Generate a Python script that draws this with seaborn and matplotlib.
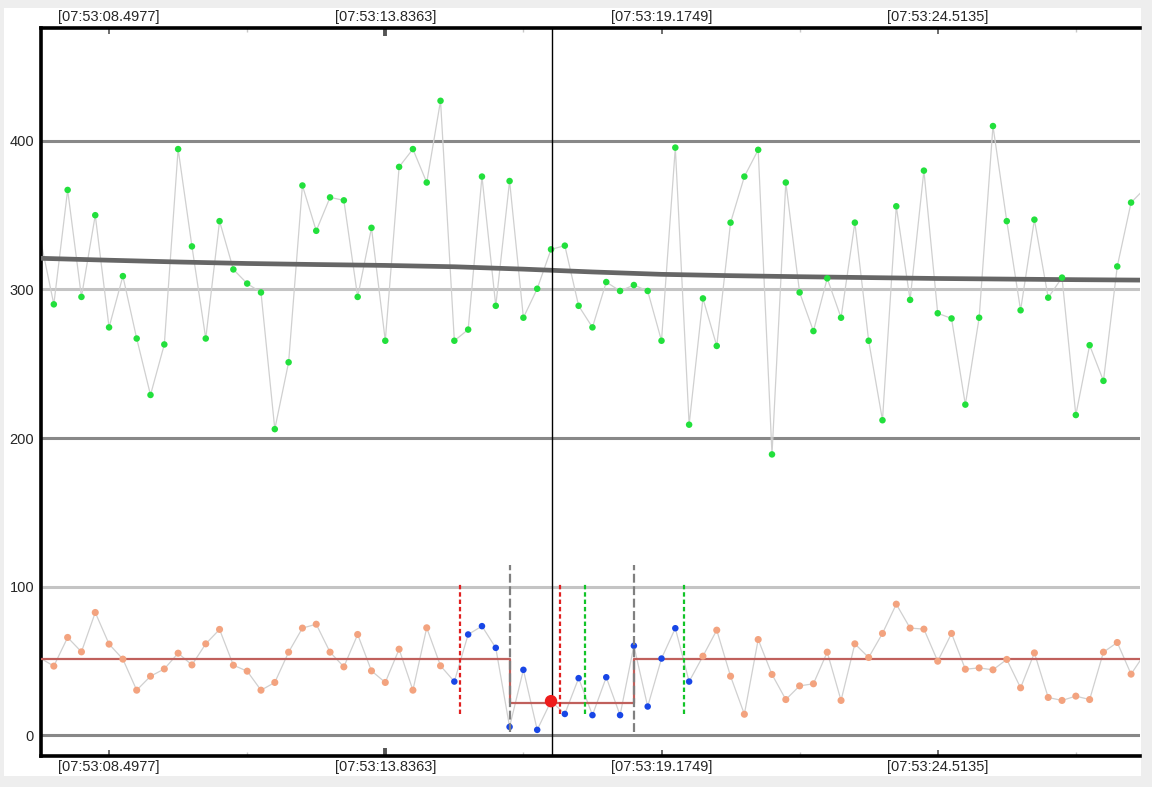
import numpy as np
import pandas as pd
import matplotlib
matplotlib.use("Agg")
import matplotlib.pyplot as plt
from matplotlib.patches import Rectangle
import seaborn as sns

# sampling: seconds past 07:53, one sample every period
period = 0.26693
first_time = 7.16305

upper_values = [335, 290, 367, 295, 350, 274.5, 309, 267, 229, 263,
                394.5, 329, 267, 346, 313.5, 304, 298, 206, 251, 370,
                339.5, 362, 360, 295, 341.5, 265.5, 382.5, 394.5, 372, 427,
                265.5, 273, 376, 289, 373, 281, 300.5, 327, 329.5, 289,
                274.5, 305, 299, 303, 299, 265.5, 395.5, 209, 294, 262,
                345, 376, 394, 189, 372, 298, 272, 307.5, 281, 345,
                265.5, 212, 356, 293, 380, 284, 280.5, 222.5, 281, 410,
                346, 286, 347, 294.5, 308, 215.5, 262.5, 238.5, 315.5, 358.5,
                368]

lower_values = [52, 46.5, 65.8, 56.1, 82.6, 61.3, 51.2, 30.3, 39.7, 44.6,
                55.2, 47.3, 61.5, 71.2, 47.1, 43.1, 30.3, 35.5, 55.9, 72.1,
                74.7, 55.9, 46, 67.8, 43.3, 35.5, 57.9, 30.3, 72.3, 46.7,
                36.1, 67.8, 73.4, 58.8, 5.6, 44, 3.6, 22.9, 14.3, 38.4,
                13.5, 39, 13.5, 60.2, 19.3, 51.6, 72, 36.1, 53.2, 70.7,
                39.7, 14.1, 64.4, 40.9, 24, 33.2, 34.6, 55.9, 23.4, 61.5,
                52.3, 68.5, 88.2, 72.1, 71.4, 49.8, 68.5, 44.4, 45.3, 44,
                51, 31.9, 55.4, 25.4, 23.4, 26.3, 24, 55.9, 62.4, 41.1,
                55]

trend_index = [0, 5, 10, 15, 20, 25, 30, 35, 40, 45, 50, 55, 60, 65, 70, 75, 80]
trend_values = [321, 319.7, 318.5, 317.5, 316.8, 316.2, 315.3, 313.7, 311.8,
                310.2, 309.3, 308.6, 308, 307.4, 307, 306.6, 306.3]

window_first, window_last = 30, 47      # samples drawn blue
selected_sample = 37                    # big red dot
level_high, level_low = 51.4, 21.5
step_first, step_last = 34, 43          # low level between these samples

tick_times = [8.4977, 13.8363, 19.1749, 24.5135]
red_marks = [15.286, 17.205]
green_marks = [17.691, 19.610]
gray_marks = [16.247, 18.649]
cursor_time = 17.050

n = len(upper_values)
times = first_time + period * np.arange(n)
df = pd.DataFrame({"t": times, "upper": upper_values, "lower": lower_values})
df["in_window"] = (df.index >= window_first) & (df.index <= window_last)
df["level"] = np.where((df.index >= step_first) & (df.index < step_last),
                       level_low, level_high)
trend = pd.DataFrame({"t": times[trend_index], "v": trend_values})
# sample 0 sits just under the left spine: only its line segment shows
shown = df.iloc[1:]

sns.set_style("white")
plt.rcParams["font.family"] = ["Liberation Sans", "DejaVu Sans"]

fig = plt.figure(figsize=(11.52, 7.87), dpi=100, facecolor="#eeeeee")
fig.patches.append(Rectangle((4 / 1152, 11 / 787), 1137 / 1152, 768 / 787,
                             transform=fig.transFigure, facecolor="white",
                             edgecolor="none", zorder=-5))
ax = fig.add_axes([41 / 1152, 1 - 756 / 787, 1099 / 1152, 728 / 787])
ax.set_facecolor("white")

# horizontal reference lines
for y, c in [(0, "#888888"), (100, "#c4c4c4"), (200, "#888888"),
             (300, "#c4c4c4"), (400, "#888888")]:
    ax.axhline(y, color=c, lw=2.2, zorder=1)

# thin connecting lines
sns.lineplot(data=df, x="t", y="upper", color="#d0d0d0", lw=0.9, ax=ax, zorder=2)
sns.lineplot(data=df, x="t", y="lower", color="#d0d0d0", lw=0.9, ax=ax, zorder=2)

# trend and level lines
sns.lineplot(data=trend, x="t", y="v", color="#666666", lw=3.4, ax=ax, zorder=3)
sns.lineplot(data=df, x="t", y="level", color="#c0605c", lw=1.6,
             drawstyle="steps-post", ax=ax, zorder=3)

# points
sns.scatterplot(data=shown, x="t", y="upper", color="#22e03c", s=22,
                edgecolor="none", ax=ax, zorder=4)
sns.scatterplot(data=shown[~shown["in_window"]], x="t", y="lower",
                color="#f3a37f", s=26, edgecolor="none", ax=ax, zorder=4)
sns.scatterplot(data=shown[shown["in_window"] & (shown.index != selected_sample)],
                x="t", y="lower", color="#1846e6", s=22, edgecolor="none",
                ax=ax, zorder=4)

# marker lines
ax.vlines(red_marks, 14, 101.5, color="#e02020", lw=1.6,
          linestyles=(0, (2, 1.3)), zorder=5)
ax.vlines(green_marks, 14, 101.5, color="#12c428", lw=1.6,
          linestyles=(0, (2, 1.3)), zorder=5)
ax.vlines(gray_marks, 2, 114.5, color="#808080", lw=1.6,
          linestyles=(0, (4, 1.6)), zorder=5)
ax.axvline(cursor_time, color="black", lw=1, zorder=5)

sel = df.loc[selected_sample]
sns.scatterplot(x=[sel["t"]], y=[sel["lower"]], color="#ee1c1c", s=80,
                edgecolor="none", ax=ax, zorder=6)

ax.set_xlabel("")
ax.set_ylabel("")
ax.set_yticks([0, 100, 200, 300, 400])
ax.set_xticks(tick_times)
ax.set_xticks([tt + 2.6693 for tt in [tick_times[0] - 5.3386] + tick_times], minor=True)
ax.set_xticklabels([f"[07:53:{s:07.4f}]" for s in tick_times])
ax.set_xlim(first_time + 0.019, first_time + 21.26)
ax.set_ylim(-14, 476)

ax.tick_params(axis="x", which="major", direction="in", top=True, bottom=True,
               labeltop=True, labelbottom=True, length=4, width=1.2,
               color="#555555", labelsize=10.5, pad=3)
ax.tick_params(axis="x", which="minor", direction="in", top=True, bottom=True,
               length=3, width=1, color="#c8c8c8")
ax.tick_params(axis="y", length=0, labelsize=10.5, pad=5)
bold = ax.xaxis.get_major_ticks()[1]
for ln in (bold.tick1line, bold.tick2line):
    ln.set_color("black")
    ln.set_markeredgewidth(2.8)
    ln.set_markersize(6)

for side in ["left", "top", "bottom"]:
    ax.spines[side].set_color("black")
    ax.spines[side].set_linewidth(2.6)
ax.spines["right"].set_visible(False)

fig.savefig("out.png", dpi=100, facecolor=fig.get_facecolor())
